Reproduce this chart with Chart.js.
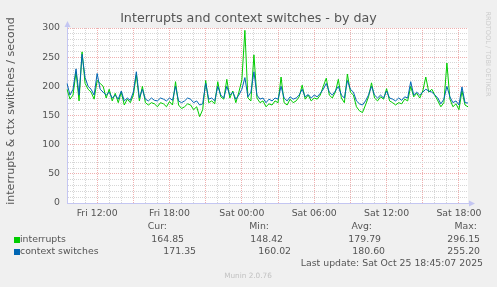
<!DOCTYPE html>
<html>
<head>
<meta charset="utf-8">
<script src="https://cdn.jsdelivr.net/npm/chart.js@4"></script>
<style>
  body { margin: 0; background: #f0f0f0; }
  canvas { display: block; }
</style>
</head>
<body>
<canvas id="irqstats" width="497" height="287"></canvas>
<script>
// Interrupts and context switches - by day (munin)

// samples every 15 min, starting Fri 09:30
const startMinutes = 9 * 60 + 30;
const stepMinutes = 15;

const interrupts = [
  195, 178, 185, 225, 175, 259, 205, 195, 190, 178,
  210, 205, 200, 180, 195, 175, 188, 172, 190, 168,
  178, 172, 185, 220, 175, 200, 172, 168, 172, 170,
  165, 172, 170, 165, 174, 168, 208, 168, 162, 165,
  170, 168, 160, 165, 148, 160, 210, 172, 175, 170,
  208, 182, 178, 212, 180, 192, 172, 190, 211, 296,
  180, 175, 254, 180, 172, 175, 165, 170, 168, 175,
  172, 216, 172, 168, 178, 172, 175, 182, 202, 178,
  185, 175, 180, 178, 185, 200, 214, 185, 180, 190,
  212, 180, 172, 221, 190, 185, 165, 158, 155, 168,
  182, 206, 180, 175, 182, 178, 196, 175, 172, 168,
  172, 170, 178, 175, 200, 182, 188, 180, 192, 216,
  190, 195, 185, 175, 165, 172, 240, 178, 165, 170,
  160, 192, 168, 164.85
];

const contextSwitches = [
  205, 185, 195, 230, 185, 255, 215, 200, 195, 185,
  222, 195, 190, 185, 190, 180, 185, 178, 192, 175,
  180, 176, 190, 225, 180, 195, 178, 175, 180, 176,
  175, 180, 178, 175, 180, 176, 200, 175, 172, 175,
  180, 178, 172, 175, 168, 170, 205, 178, 180, 175,
  200, 185, 180, 200, 185, 190, 178, 185, 195, 215,
  182, 190, 225, 185, 178, 180, 172, 178, 175, 180,
  178, 200, 180, 175, 182, 178, 180, 185, 195, 182,
  186, 180, 185, 182, 188, 195, 205, 190, 185, 192,
  200, 185, 180, 210, 195, 190, 175, 170, 168, 175,
  185, 200, 185, 180, 185, 180, 192, 180, 178, 175,
  180, 176, 182, 180, 208, 185, 190, 185, 190, 195,
  192, 190, 185, 180, 170, 178, 200, 182, 172, 175,
  168, 199, 172, 171.35
];

const seriesNames = ['interrupts', 'context switches'];
const seriesColors = ['#00cc00', '#0066b3'];
const statHeaders = ['Cur:', 'Min:', 'Avg:', 'Max:'];
const statsIrq = ['164.85', '148.42', '179.79', '296.15'];
const statsCtx = ['171.35', '160.02', '180.60', '255.20'];
const lastUpdate = 'Last update: Sat Oct 25 18:45:07 2025';
const chartTitle = 'Interrupts and context switches - by day';

const dayNames = ['Fri', 'Sat'];
const timeLabels = interrupts.map((v, i) => {
  const m = startMinutes + i * stepMinutes;
  const day = dayNames[Math.floor(m / 1440)];
  const hh = String(Math.floor((m % 1440) / 60)).padStart(2, '0');
  const mm = String(m % 60).padStart(2, '0');
  return day + ' ' + hh + ':' + mm;
});

const FONT = 'DejaVu Sans';
const TXT = '#555555';
const AXIS = '#c4c6f2';
const MAJOR = '#efb0b0';
const MINOR = '#d6d6d6';

const minuteOf = i => startMinutes + i * stepMinutes;

const muninPlugin = {
  id: 'munin',
  beforeDraw(chart) {
    const c = chart.ctx, a = chart.chartArea;
    c.save();
    c.fillStyle = '#f0f0f0';
    c.fillRect(0, 0, chart.width, chart.height);
    c.fillStyle = '#ffffff';
    c.fillRect(a.left, a.top, a.right - a.left, a.bottom - a.top);
    c.restore();
  },
  afterDraw(chart) {
    const c = chart.ctx, a = chart.chartArea;
    c.save();
    // axis arrows
    c.fillStyle = AXIS;
    c.strokeStyle = AXIS;
    c.lineWidth = 1;
    c.beginPath();
    c.moveTo(a.left + 0.5, a.top);
    c.lineTo(a.left + 0.5, a.top - 3);
    c.stroke();
    c.beginPath();
    c.moveTo(a.left + 0.5, a.top - 7);
    c.lineTo(a.left - 2.5, a.top - 1);
    c.lineTo(a.left + 3.5, a.top - 1);
    c.closePath();
    c.fill();
    c.beginPath();
    c.moveTo(a.right + 7, a.bottom + 0.5);
    c.lineTo(a.right + 1, a.bottom - 2.5);
    c.lineTo(a.right + 1, a.bottom + 3.5);
    c.closePath();
    c.fill();

    c.textBaseline = 'middle';

    // title, centred on the whole image
    c.fillStyle = TXT;
    c.textAlign = 'center';
    c.font = '12.7px "' + FONT + '"';
    c.fillText(chartTitle, 248.5, 18.5);

    // legend table
    c.font = '9.33px "' + FONT + '"';
    c.textAlign = 'right';
    const headX = [167, 269, 372, 477];
    statHeaders.forEach((t, i) => c.fillText(t, headX[i], 227));
    const irqX = [184, 283, 381, 480];
    const ctxX = [196, 291, 385, 480];
    statsIrq.forEach((t, i) => c.fillText(t, irqX[i], 240));
    statsCtx.forEach((t, i) => c.fillText(t, ctxX[i], 252));
    c.fillText(lastUpdate, 483, 264);
    c.textAlign = 'left';
    c.fillText(seriesNames[0], 20, 240);
    c.fillText(seriesNames[1], 20, 252);
    c.fillStyle = seriesColors[0];
    c.fillRect(14, 237, 6, 6);
    c.fillStyle = seriesColors[1];
    c.fillRect(14, 249, 6, 6);

    c.fillStyle = '#c2c2c2';
    c.font = '7.3px "' + FONT + '"';
    c.textAlign = 'center';
    c.fillText('Munin 2.0.76', 248, 276);

    // vertical axis title
    c.save();
    c.translate(11.5, 111);
    c.rotate(-Math.PI / 2);
    c.fillStyle = TXT;
    c.font = '11px "' + FONT + '"';
    c.fillText('interrupts & ctx switches / second', 0, 0);
    c.restore();

    // rrdtool credit on the right
    c.translate(488, 54);
    c.rotate(Math.PI / 2);
    c.fillStyle = '#cccccc';
    c.font = '6.6px "' + FONT + '"';
    c.fillText('RRDTOOL / TOBI OETIKER', 0, 0);
    c.restore();
  }
};

new Chart(document.getElementById('irqstats'), {
  type: 'line',
  data: {
    labels: timeLabels,
    datasets: [
      {
        label: seriesNames[0],
        data: interrupts,
        borderColor: seriesColors[0],
        order: 1
      },
      {
        label: seriesNames[1],
        data: contextSwitches,
        borderColor: seriesColors[1],
        order: 0
      }
    ]
  },
  options: {
    responsive: false,
    animation: false,
    events: [],
    elements: {
      point: { radius: 0 },
      line: { borderWidth: 1, tension: 0, fill: false }
    },
    layout: { padding: { left: 0, right: 29, top: 28, bottom: 0 } },
    plugins: {
      legend: { display: false },
      tooltip: { enabled: false },
      title: { display: false }
    },
    scales: {
      x: {
        type: 'category',
        offset: false,
        afterFit: s => { s.height = 84; },
        border: { display: true, color: AXIS, width: 1, dash: [1, 1] },
        grid: {
          drawTicks: false,
          lineWidth: 1,
          color: ctx => {
            const m = minuteOf(ctx.index);
            if (m % 60 !== 0) return 'rgba(0,0,0,0)';
            if (ctx.index === 0) return 'rgba(0,0,0,0)';
            return (m / 60) % 3 === 0 ? MAJOR : MINOR;
          }
        },
        ticks: {
          autoSkip: false,
          maxRotation: 0,
          minRotation: 0,
          padding: 5,
          color: TXT,
          font: { family: FONT, size: 9.33 },
          callback: (v, i) => {
            const m = minuteOf(i);
            return (m % 360 === 0) ? timeLabels[i] : '';
          }
        }
      },
      y: {
        min: 0,
        max: 300,
        afterFit: s => { s.width = 67; },
        border: { display: true, color: AXIS, width: 1, dash: [1, 1] },
        grid: {
          drawTicks: false,
          lineWidth: 1,
          color: ctx => {
            const v = ctx.tick.value;
            if (v === 0) return 'rgba(0,0,0,0)';
            return v % 50 === 0 ? MAJOR : MINOR;
          }
        },
        ticks: {
          stepSize: 10,
          maxTicksLimit: 40,
          autoSkip: false,
          padding: 7,
          color: TXT,
          font: { family: FONT, size: 9.33 },
          callback: v => (v % 50 === 0 ? v : '')
        }
      }
    }
  },
  plugins: [muninPlugin]
});
</script>
</body>
</html>
